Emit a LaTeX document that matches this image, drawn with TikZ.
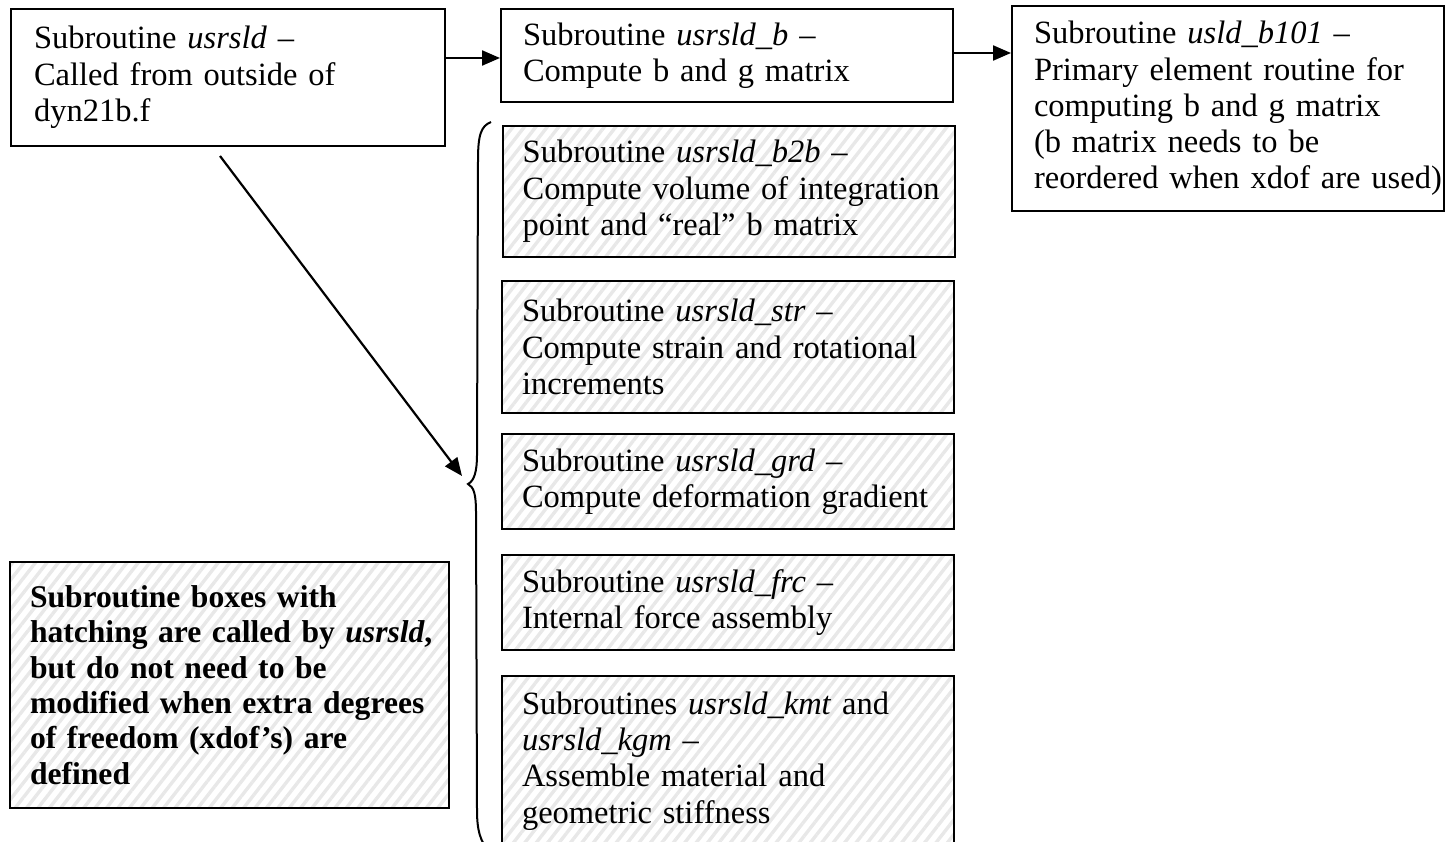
\documentclass[tikz,border=0pt]{standalone}
\usepackage{fontspec}
\setmainfont{Liberation Serif}
\usetikzlibrary{patterns.meta,arrows.meta}
\newcommand{\LN}[1]{\mbox{#1}}
\begin{document}
\begin{tikzpicture}[x=1pt,y=-1pt,
  box/.style={draw,line width=2pt,anchor=north west,align=left,inner ysep=0pt,
    font=\fontsize{32.5}{36.3}\selectfont},
  hatch/.style={box,pattern={Lines[angle=52,distance=9pt,line width=3.4pt]},pattern color=black!9},
  arr/.style={line width=2.2pt,-{Triangle[length=18pt,width=15pt]}},
  bracestyle/.style={line width=2pt}]
\useasboundingbox (0,0) rectangle (1448,842);
\clip (0,0) rectangle (1448,842);

\node[box,inner xsep=23pt,text width=388pt,minimum height=137pt] (b1) at (10,8)
  {\LN{Subroutine \textit{usrsld} –}\\\LN{Called from outside of}\\\LN{dyn21b.f}};
\node[box,inner xsep=22pt,text width=408pt,minimum height=93pt] (b2) at (500,8)
  {\LN{Subroutine \textit{usrsld\_b} –}\\\LN{Compute b and g matrix}};
\node[box,inner xsep=22pt,text width=388pt,minimum height=205pt] (b3) at (1011,5)
  {\LN{Subroutine \textit{usld\_b101} –}\\\LN{Primary element routine for}\\\LN{computing b and g matrix}\\\LN{(b matrix needs to be}\\\LN{reordered when xdof are used)}};

\node[hatch,inner xsep=20pt,text width=412pt,minimum height=131pt] (h1) at (501,124)
  {\LN{Subroutine \textit{usrsld\_b2b} –}\\\LN{Compute volume of integration}\\\LN{point and “real” b matrix}};
\node[hatch,inner xsep=20pt,text width=412pt,minimum height=132pt] (h2) at (501,280)
  {\LN{Subroutine \textit{usrsld\_str} –}\\\LN{Compute strain and rotational}\\\LN{increments}};
\node[hatch,inner xsep=20pt,text width=412pt,minimum height=95pt] (h3) at (501,433)
  {\LN{Subroutine \textit{usrsld\_grd} –}\\\LN{Compute deformation gradient}};
\node[hatch,inner xsep=20pt,text width=412pt,minimum height=95pt] (h4) at (501,554)
  {\LN{Subroutine \textit{usrsld\_frc} –}\\\LN{Internal force assembly}};
\node[hatch,inner xsep=20pt,text width=412pt,minimum height=170pt] (h5) at (501,675)
  {\LN{Subroutines \textit{usrsld\_kmt} and}\\\LN{\textit{usrsld\_kgm} –}\\\LN{Assemble material and}\\\LN{geometric stiffness}};

\node[hatch,inner xsep=20pt,text width=399pt,minimum height=246pt,font=\fontsize{31.6}{35.4}\selectfont\bfseries] (lg) at (9,561)
  {\LN{Subroutine boxes with}\\\LN{hatching are called by \textit{usrsld},}\\\LN{but do not need to be}\\\LN{modified when extra degrees}\\\LN{of freedom (xdof’s) are}\\\LN{defined}};

\draw[arr] ([yshift=-50pt]b1.north east) -- ([yshift=-50pt]b1.north east -| b2.west);
\draw[arr] ([yshift=-45pt]b2.north east) -- ([yshift=-45pt]b2.north east -| b3.west);

\coordinate (tip) at (468,484);
\coordinate (bt) at (462,476);
\draw[bracestyle] (491,122) .. controls (481,126) and (478,135) .. (478,160)
  -- (477,455) .. controls (477,472) and (474,481) .. (tip)
  .. controls (474,487) and (476,495) .. (476,512)
  -- (477,810) .. controls (477,830) and (480,842) .. (490,852);
\draw[arr] ([xshift=-8pt,yshift=-9pt]b1.south) -- (bt);
\end{tikzpicture}
\end{document}
